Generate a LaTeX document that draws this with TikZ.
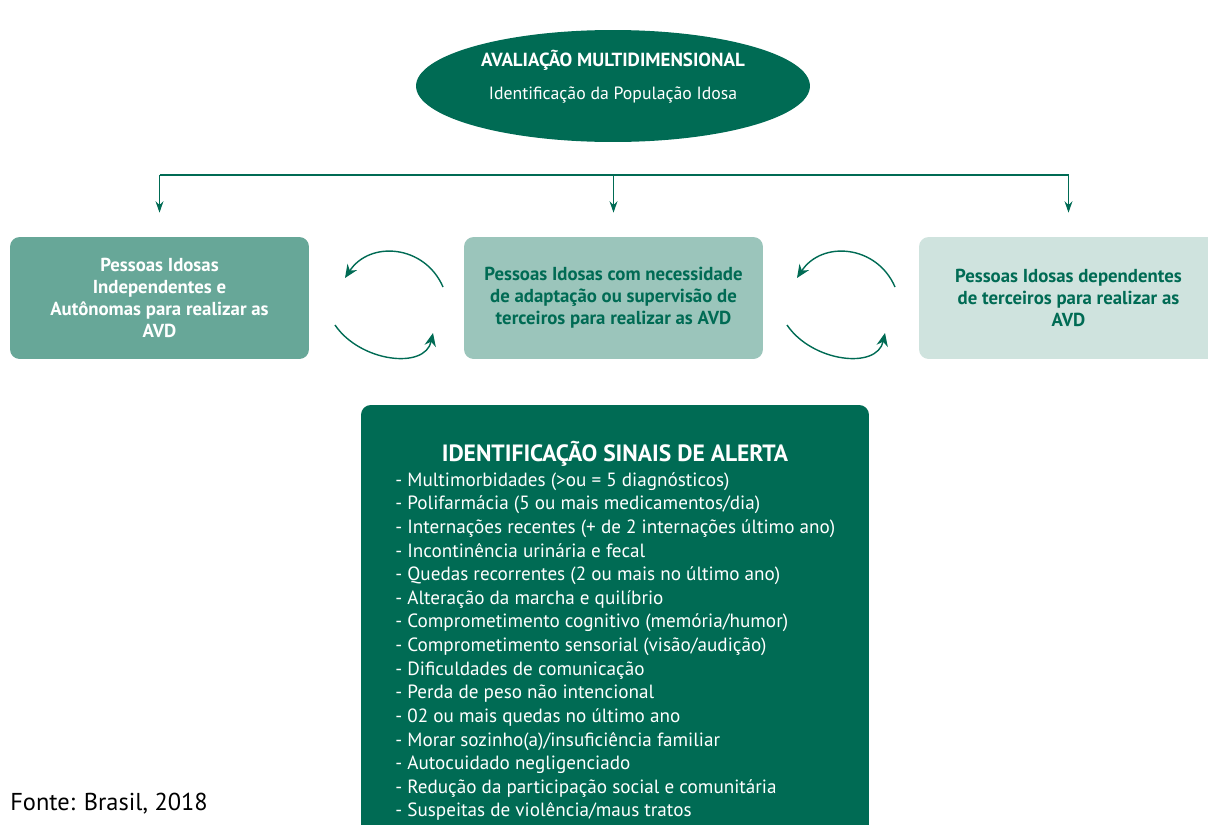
\documentclass[tikz,border=0pt]{standalone}
\usepackage{fontspec}
\setmainfont{PT Sans}
\usetikzlibrary{arrows.meta, positioning, shapes.geometric, calc}
\definecolor{darkgreen}{RGB}{0,107,84}
\definecolor{midgreen}{RGB}{103,167,152}
\definecolor{palegreen}{RGB}{155,197,187}
\definecolor{lightgreen}{RGB}{207,227,222}

\begin{document}
\begin{tikzpicture}[x=0.02cm, y=-0.02cm,
  groupbox/.style={rectangle, rounded corners=5.5pt, inner sep=0pt,
                   minimum width=5.98cm, minimum height=2.44cm,
                   align=center, font=\fontsize{10.7}{12.5}\selectfont\bfseries},
  arrow/.style={-{Stealth[length=6.5pt, width=4.5pt]}, line width=0.8pt, darkgreen},
  cycle/.style={-{Stealth[length=7.5pt, width=6.5pt]}, line width=0.8pt, darkgreen},
  line/.style={line width=0.8pt, darkgreen}
]
\useasboundingbox (0,0) rectangle (1208,825);
\clip (0,0) rectangle (1208,825);

% top: ellipse
\node[ellipse, fill=darkgreen, inner sep=0pt, minimum width=7.88cm,
      minimum height=2.24cm] (eval) at (613,86) {};
\node[anchor=base, text=white, font=\fontsize{10.8}{12}\selectfont\bfseries] (evaltitle)
  at (613,66) {AVALIAÇÃO MULTIDIMENSIONAL};
\node[anchor=base, text=white, font=\fontsize{10.1}{12}\selectfont] (evalsub)
  at (613,99) {Identificação da População Idosa};

% three groups
\node[groupbox, fill=midgreen, text=white] (indep) at (159.5,298)
  {Pessoas Idosas\\Independentes e\\Autônomas para realizar as\\AVD};
\node[groupbox, fill=palegreen, text=darkgreen] (adapt) at (613.5,298)
  {Pessoas Idosas com necessidade\\de adaptação ou supervisão de\\terceiros para realizar as AVD};
\node[groupbox, fill=lightgreen, text=darkgreen] (depend) at (1068.5,298)
  {Pessoas Idosas dependentes\\de terceiros para realizar as\\AVD};

% branching arrows
\coordinate (bus) at (613,175);
\draw[line] (indep.north |- bus) -- (depend.north |- bus);
\draw[arrow] (indep.north |- bus) -- ($(indep.north)+(0,-24)$);
\draw[arrow] (adapt.north |- bus) -- ($(adapt.north)+(0,-24)$);
\draw[arrow] (depend.north |- bus) -- ($(depend.north)+(0,-24)$);

% back and forth between groups
\coordinate (a1) at (443,287); \coordinate (a2) at (345,278);
\coordinate (a3) at (335,325); \coordinate (a4) at (433,333);
\coordinate (b1) at (895,287); \coordinate (b2) at (797,278);
\coordinate (b3) at (787,325); \coordinate (b4) at (885,333);
\draw[cycle] (a1) .. controls (425,245) and (370,240) .. (a2);
\draw[cycle] (a3) .. controls (360,362) and (425,370) .. (a4);
\draw[cycle] (b1) .. controls (877,245) and (822,240) .. (b2);
\draw[cycle] (b3) .. controls (812,362) and (877,370) .. (b4);

% warning signs
\node[rectangle, rounded corners=5.5pt, fill=darkgreen, minimum width=10.16cm,
      minimum height=8.8cm, inner sep=0pt] (alert) at (615,625) {};
\node[anchor=base, text=white, font=\fontsize{13.4}{15}\selectfont\bfseries] (alerttitle)
  at (615,461) {IDENTIFICAÇÃO SINAIS DE ALERTA};
\node[anchor=north west, inner sep=0pt, align=left, text=white,
      font=\fontsize{10.9}{13.45}\selectfont] (signs) at (395,472)
  {- Multimorbidades (>ou = 5 diagnósticos)\\
   - Polifarmácia (5 ou mais medicamentos/dia)\\
   - Internações recentes (+ de 2 internações último ano)\\
   - Incontinência urinária e fecal\\
   - Quedas recorrentes (2 ou mais no último ano)\\
   - Alteração da marcha e quilíbrio\\
   - Comprometimento cognitivo (memória/humor)\\
   - Comprometimento sensorial (visão/audição)\\
   - Dificuldades de comunicação\\
   - Perda de peso não intencional\\
   - 02 ou mais quedas no último ano\\
   - Morar sozinho(a)/insuficiência familiar\\
   - Autocuidado negligenciado\\
   - Redução da participação social e comunitária\\
   - Suspeitas de violência/maus tratos};

% source
\node[anchor=base west, inner sep=0pt, font=\fontsize{13.9}{16}\selectfont] (source)
  at (10,810) {Fonte: Brasil, 2018};

\end{tikzpicture}
\end{document}
